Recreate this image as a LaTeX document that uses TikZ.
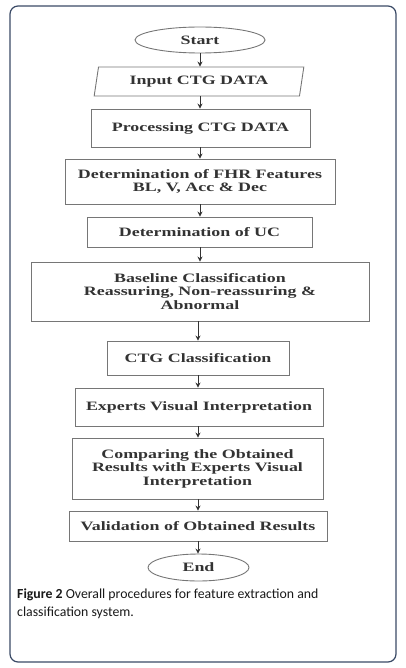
\documentclass[tikz,border=0pt]{standalone}
\usepackage{fontspec}
\setmainfont{Liberation Serif}
\newfontfamily\boxfont[FakeStretch=1.4]{Liberation Serif}
\newfontfamily\capfont{Carlito}
\usetikzlibrary{shapes.geometric,arrows.meta}
\definecolor{framecol}{HTML}{3A4A66}
\definecolor{boxcol}{HTML}{767676}
\definecolor{txtcol}{HTML}{333333}

\begin{document}
\begin{tikzpicture}[x=1pt, y=-1pt,
  box/.style={draw=boxcol, line width=0.9pt, inner sep=0pt, align=center,
    text=txtcol, font=\boxfont\bfseries\fontsize{12.8}{13.5}\selectfont},
  term/.style={box, ellipse},
  flow/.style={draw=black!80, line width=0.8pt, -{Stealth[length=5pt,width=5pt]}}]

\useasboundingbox (0,0) rectangle (405,668);
\draw[framecol, line width=1.2pt, rounded corners=8pt] (10,6) rectangle (396,662);

% flow chart
\node[term, minimum width=130pt, minimum height=26pt] (start) at (200,40) {Start};
\node[box, trapezium, trapezium left angle=75, trapezium right angle=105,
  trapezium stretches=true, minimum width=210pt, minimum height=29pt] (input) at (199,81.5) {Input CTG DATA};
\node[box, minimum width=219pt, minimum height=38pt] (process) at (200.5,128) {Processing CTG DATA};
\node[box, minimum width=270pt, minimum height=45pt] (fhr) at (200,181.5) {Determination of FHR Features\\BL, V, Acc \& Dec};
\node[box, minimum width=225pt, minimum height=30pt] (uc) at (199.5,232) {Determination of UC};
\node[box, minimum width=338pt, minimum height=59pt] (baseline) at (200,291.5) {Baseline Classification\\Reassuring, Non-reassuring \&\\Abnormal};
\node[box, minimum width=182pt, minimum height=34pt] (ctgclass) at (198,358) {CTG Classification};
\node[box, minimum width=248pt, minimum height=38pt] (experts) at (199,407) {Experts Visual Interpretation};
\node[box, minimum width=251pt, minimum height=61pt] (compare) at (197.5,468.5) {Comparing the Obtained\\Results with Experts Visual\\Interpretation};
\node[box, minimum width=258pt, minimum height=30pt] (valid) at (198,526) {Validation of Obtained Results};
\node[term, minimum width=101pt, minimum height=27pt] (stop) at (198.5,567.5) {End};

\draw[flow] (start.south) -- (start.south |- input.north);
\draw[flow] (input.south -| start.south) -- (start.south |- process.north);
\draw[flow] (process.south -| start.south) -- (start.south |- fhr.north);
\draw[flow] (fhr.south -| start.south) -- (start.south |- uc.north);
\draw[flow] (uc.south -| start.south) -- (start.south |- baseline.north);
\draw[flow] (baseline.south -| ctgclass.north) -- (ctgclass.north);
\draw[flow] (ctgclass.south) -- (ctgclass.south |- experts.north);
\draw[flow] (experts.south -| ctgclass.south) -- (ctgclass.south |- compare.north);
\draw[flow] (compare.south -| ctgclass.south) -- (ctgclass.south |- valid.north);
\draw[flow] (valid.south -| ctgclass.south) -- (ctgclass.south |- stop.north);

% caption
\node[anchor=base west, inner sep=0pt, align=left, text=black!90,
  font=\capfont\fontsize{13.8}{18.5}\selectfont] (caption) at (17,616.5)
  {\textbf{Figure 2} Overall procedures for feature extraction and\\classification system.};

\end{tikzpicture}
\end{document}
